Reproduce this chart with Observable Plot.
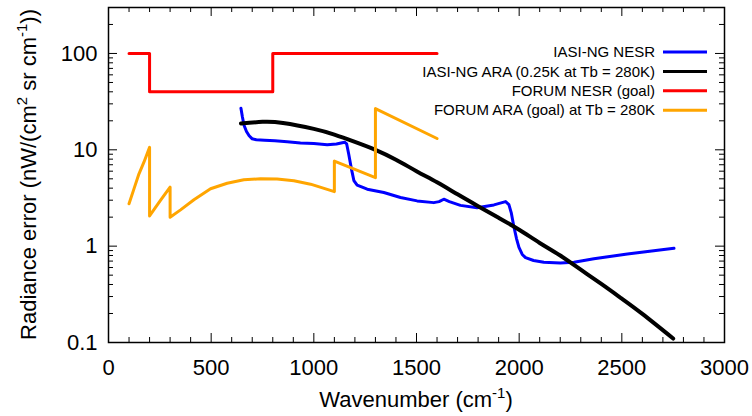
<!DOCTYPE html>
<html><head><meta charset="utf-8">
<script src="https://cdn.jsdelivr.net/npm/d3@7"></script>
<script src="https://cdn.jsdelivr.net/npm/@observablehq/plot@0.6"></script>
<style>body{margin:0;background:#fff;} svg{font-family:"Liberation Sans",Arial,sans-serif;}</style>
</head><body><div id="chart"></div>
<script>
// IASI-NG NESR (blue)
const iasiNesrX = [645, 652, 660, 672, 685, 700, 720, 760, 810, 870, 935, 1000, 1065, 1110, 1150, 1160, 1170, 1182, 1195, 1211, 1260, 1341, 1422, 1503, 1584, 1610, 1633, 1660, 1714, 1795, 1877, 1934, 1950, 1962, 1974, 1987, 1999, 2015, 2031, 2070, 2120, 2200, 2267, 2364, 2527, 2754];
const iasiNesrY = [27, 22, 18, 15.5, 14, 13, 12.7, 12.6, 12.4, 12.1, 11.8, 11.6, 11.3, 11.5, 12.0, 11.5, 9, 6.5, 4.8, 4.3, 3.9, 3.6, 3.2, 2.95, 2.83, 2.9, 3.07, 2.9, 2.65, 2.5, 2.68, 2.9, 2.7, 2.2, 1.6, 1.2, 0.97, 0.82, 0.76, 0.71, 0.68, 0.67, 0.68, 0.74, 0.83, 0.95];
// IASI-NG ARA (black)
const iasiAraX = [645, 750, 850, 1000, 1100, 1200, 1300, 1400, 1500, 1600, 1700, 1800, 1900, 2000, 2100, 2200, 2300, 2400, 2500, 2600, 2750];
const iasiAraY = [18.8, 19.5, 19.0, 16.5, 14.4, 12.1, 10.0, 7.9, 6.0, 4.6, 3.45, 2.6, 1.97, 1.48, 1.08, 0.8, 0.57, 0.405, 0.285, 0.198, 0.11];
// FORUM NESR (goal) (red)
const forumNesrX = [100, 200, 200, 800, 800, 1600];
const forumNesrY = [100, 100, 40, 40, 100, 100];
// FORUM ARA (goal) at Tb = 280K (orange)
const forumAraX = [100, 124, 148, 172, 200, 200, 253, 300, 300, 351, 416, 497, 578, 659, 740, 821, 903, 984, 1100, 1100, 1300, 1300, 1600];
const forumAraY = [2.75, 3.93, 5.6, 7.4, 10.6, 2.06, 2.98, 4.1, 2.0, 2.38, 3.03, 3.94, 4.5, 4.89, 5.0, 4.97, 4.77, 4.4, 3.68, 7.64, 5.14, 26.8, 13.1];

const xMajor = [0, 500, 1000, 1500, 2000, 2500, 3000];
const xMinor = d3.range(0, 3001, 100).filter(v => v % 500 !== 0);
const yMajor = [0.1, 1, 10, 100];
const yMinor = [0.2,0.3,0.4,0.5,0.6,0.7,0.8,0.9,2,3,4,5,6,7,8,9,20,30,40,50,60,70,80,90,200];

const legendLabels = ["IASI-NG NESR", "IASI-NG ARA (0.25K at Tb = 280K)", "FORUM NESR (goal)", "FORUM ARA (goal) at Tb = 280K"];
const legendColors = ["#0000ff", "#000000", "#ff0000", "#ffa500"];

const rows = (xs, ys) => xs.map((x, i) => ({x, y: ys[i]}));

const W = 752, H = 416, mL = 108, mR = 28, mT = 7, mB = 74;
const pw = W - mL - mR, ph = H - mT - mB;
const majLen = 9, minLen = 5;

const plot = Plot.plot({
  width: W, height: H,
  marginLeft: mL, marginRight: mR, marginTop: mT, marginBottom: mB,
  style: {fontFamily: "Liberation Sans, Arial, sans-serif", fontSize: "22px", color: "#000", background: "#fff"},
  x: {domain: [0, 3000], axis: null},
  y: {type: "log", domain: [0.1, 300], axis: null},
  marks: [
    Plot.line(rows(iasiNesrX, iasiNesrY), {x: "x", y: "y", stroke: legendColors[0], strokeWidth: 3}),
    Plot.line(rows(iasiAraX, iasiAraY), {x: "x", y: "y", stroke: legendColors[1], strokeWidth: 4, curve: "natural"}),
    Plot.line(rows(forumNesrX, forumNesrY), {x: "x", y: "y", stroke: legendColors[2], strokeWidth: 3}),
    Plot.line(rows(forumAraX, forumAraY), {x: "x", y: "y", stroke: legendColors[3], strokeWidth: 3}),
    // inward ticks (bottom/top)
    Plot.tickX(xMajor, {x: d => d, stroke: "#000", insetTop: ph - majLen}),
    Plot.tickX(xMajor, {x: d => d, stroke: "#000", insetBottom: ph - majLen}),
    Plot.tickX(xMinor, {x: d => d, stroke: "#000", insetTop: ph - minLen}),
    Plot.tickX(xMinor, {x: d => d, stroke: "#000", insetBottom: ph - minLen}),
    // inward ticks (left/right)
    Plot.tickY(yMajor, {y: d => d, stroke: "#000", insetRight: pw - majLen}),
    Plot.tickY(yMajor, {y: d => d, stroke: "#000", insetLeft: pw - majLen}),
    Plot.tickY(yMinor, {y: d => d, stroke: "#000", insetRight: pw - minLen}),
    Plot.tickY(yMinor, {y: d => d, stroke: "#000", insetLeft: pw - minLen}),
    Plot.axisX(xMajor, {tickSize: 0, tickPadding: 17, tickFormat: d => String(d), fontSize: 22, label: null}),
    Plot.axisY(yMajor, {tickSize: 0, tickPadding: 11, tickFormat: d => String(d), fontSize: 22, label: null}),
    Plot.frame({stroke: "#000", strokeWidth: 1.5})
  ]
});
document.getElementById("chart").appendChild(plot);

const svg = d3.select(plot);
// y label
const yl = svg.append("text")
  .attr("transform", `translate(36,${mT + ph / 2}) rotate(-90)`)
  .attr("text-anchor", "middle").attr("font-size", 22).attr("fill", "#000");
yl.append("tspan").text("Radiance error (nW/(cm");
yl.append("tspan").attr("font-size", 15).attr("dy", -9).text("2");
yl.append("tspan").attr("dy", 9).text(" sr cm");
yl.append("tspan").attr("font-size", 15).attr("dy", -9).text("-1");
yl.append("tspan").attr("dy", 9).text("))");
// x label
const xl = svg.append("text")
  .attr("x", mL + pw / 2).attr("y", 407)
  .attr("text-anchor", "middle").attr("font-size", 22).attr("fill", "#000");
xl.append("tspan").text("Wavenumber (cm");
xl.append("tspan").attr("font-size", 15).attr("dy", -9).text("-1");
xl.append("tspan").attr("dy", 9).text(")");
// legend
const lg = svg.append("g");
legendLabels.forEach((t, i) => {
  const cy = 52 + i * 19.4;
  lg.append("text").attr("x", 655).attr("y", cy).attr("dy", "0.35em")
    .attr("text-anchor", "end").attr("font-size", 15).attr("fill", "#000").text(t);
  lg.append("line").attr("x1", 663).attr("x2", 707).attr("y1", cy).attr("y2", cy)
    .attr("stroke", legendColors[i]).attr("stroke-width", 3);
});
</script>
</body></html>
